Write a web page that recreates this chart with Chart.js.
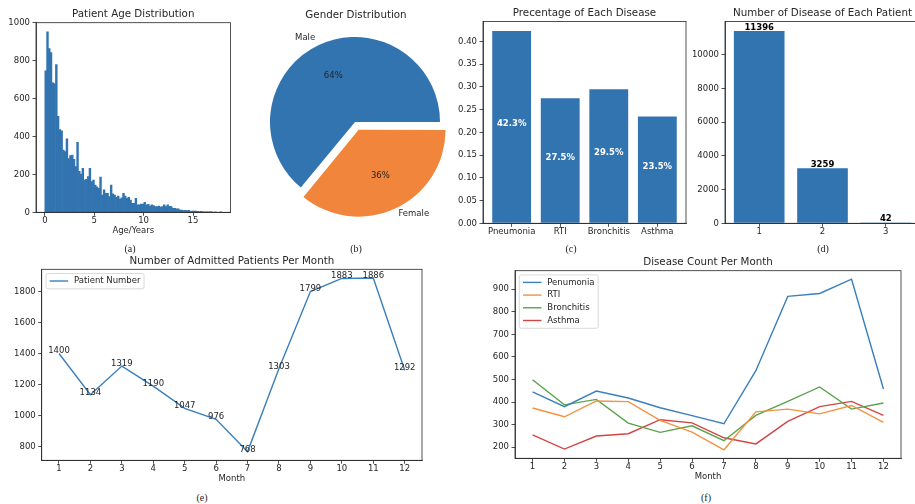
<!DOCTYPE html>
<html>
<head>
<meta charset="utf-8">
<script src="https://cdn.jsdelivr.net/npm/chart.js@4.4.1/dist/chart.umd.min.js"></script>
<style>
  html, body { margin: 0; padding: 0; background: #fff; }
  body { position: relative; width: 915px; height: 504px; overflow: hidden; }
  canvas { position: absolute; }
  .cap { position: absolute; font-family: "Liberation Serif", "DejaVu Serif", serif; font-size: 10px; color: #222;
         transform: translate(-50%, -50%); white-space: nowrap; }
</style>
</head>
<body>
<canvas id="ageChart"></canvas>
<canvas id="genderChart"></canvas>
<canvas id="shareChart"></canvas>
<canvas id="multiChart"></canvas>
<canvas id="admitChart"></canvas>
<canvas id="monthlyChart"></canvas>
<div class="cap" style="left:130px;top:248px">(a)</div>
<div class="cap" style="left:356px;top:248px">(b)</div>
<div class="cap" style="left:571px;top:248px">(c)</div>
<div class="cap" style="left:823px;top:248px">(d)</div>
<div class="cap" style="left:202px;top:497px">(e)</div>
<div class="cap" style="left:706px;top:497px">(f)</div>
<script>
// ---------------- data ----------------
// age histogram: 100 bins starting at 0 years
const ageBinStart = 0;
const ageBinWidth = 0.179;
const ageCounts = [
  747, 953, 864, 843, 683, 680, 780, 506, 437, 430,
  329, 320, 388, 283, 299, 302, 279, 241, 369, 216,
  202, 232, 170, 174, 188, 232, 162, 170, 144, 135,
  127, 186,  91, 118, 100, 100,  83, 144,  97,  91,
   79,  86,  70,  77, 100,  86,  74,  79,  65,  47,
   47,  74,  39,  39,  44,  44,  53,  39,  42,  33,
   40,  35,  30,  30,  33,  28,  30,  40,  30,  39,
   32,  30,  21,  21,  18,  18,  12,  12,   9,  10,
    9,  10,   5,   7,   7,   6,   5,   4,   5,   3,
    3,   2,   2,   1,   1,   0,   1,   0,   0,   1
];
const ageTicks = [0, 5, 10, 15];
const ageCountTicks = [0, 200, 400, 600, 800, 1000];

const genderLabels = ['Male', 'Female'];
const genderShare = [64, 36];

const diseaseNames = ['Pneumonia', 'RTI', 'Bronchitis', 'Asthma'];
const diseaseShare = [0.423, 0.275, 0.295, 0.235];
const shareTicks = [0, 0.05, 0.10, 0.15, 0.20, 0.25, 0.30, 0.35, 0.40];

const diseasesPerPatient = [1, 2, 3];
const patientsWithCount = [11396, 3259, 42];
const patientTicks = [0, 2000, 4000, 6000, 8000, 10000];

const months = [1, 2, 3, 4, 5, 6, 7, 8, 9, 10, 11, 12];
const admittedPatients = [1400, 1134, 1319, 1190, 1047, 976, 768, 1303, 1799, 1883, 1886, 1292];
const admittedTicks = [800, 1000, 1200, 1400, 1600, 1800];

const pneumoniaMonthly  = [445, 380, 449, 418, 375, 340, 304, 539, 868, 881, 944, 458];
const rtiMonthly        = [374, 335, 405, 402, 319, 267, 189, 357, 369, 348, 385, 310];
const bronchitisMonthly = [499, 388, 412, 307, 266, 295, 229, 341, 403, 467, 369, 396];
const asthmaMonthly     = [255, 192, 250, 260, 322, 308, 242, 215, 315, 380, 403, 341];
const monthlyTicks = [200, 300, 400, 500, 600, 700, 800, 900];

// ---------------- style ----------------
const FONT = "'DejaVu Sans', sans-serif";
const INK = '#262626';
const BLUE = '#3274b0';
const ORANGE = '#f0853b';
const LINE_COLORS = ['#3a7fbd', '#f5913f', '#58a34c', '#d24545'];
const LINE_WIDTH = 1.4;
const TICK_SIZE = 8.5;
const TITLE_SIZE = 10.3;
const PIE_R = 85;
const FEMALE_EXPLODE = 0.1;

Chart.defaults.font.family = FONT;
Chart.defaults.color = INK;
Chart.defaults.animation = false;
Chart.defaults.plugins.legend.display = false;
Chart.defaults.plugins.tooltip.enabled = false;

// matplotlib-like 5% autoscale margin
function padRange(lo, hi) { const m = 0.05 * (hi - lo); return [lo - m, hi + m]; }

// place a canvas so that its plot area lands on the given box
function place(id, box, room) {
  const c = document.getElementById(id);
  const left = Math.floor(box.L - room.l), top = Math.floor(box.T - room.t);
  const right = Math.ceil(box.R + room.r), bottom = Math.ceil(box.B + room.b);
  c.style.left = left + 'px'; c.style.top = top + 'px';
  c.width = right - left; c.height = bottom - top;
  return { yw: box.L - left, pt: box.T - top, pr: right - box.R, xh: bottom - box.B };
}

function axis(horizontal, range, tickValues, fmt, size, pad) {
  return {
    type: 'linear', min: range[0], max: range[1], bounds: 'data', offset: false,
    afterBuildTicks: s => { s.ticks = tickValues.map(v => ({ value: v })); },
    afterFit: s => { if (horizontal) s.height = size; else s.width = size; },
    grid: { drawOnChartArea: false, drawTicks: true, tickLength: 3.5, tickWidth: 0.8, tickColor: INK, offset: false },
    border: { display: true, color: INK, width: 0.8 },
    ticks: { font: { size: TICK_SIZE }, color: INK, padding: pad, autoSkip: false, maxRotation: 0, minRotation: 0,
             callback: v => fmt(v) }
  };
}

function layoutOf(g) { return { padding: { left: 0, top: g.pt, right: g.pr, bottom: 0 } }; }

// axes frame, title, x label and optional extras
function frame(cfg) {
  return {
    id: 'frame',
    afterDraw(chart) {
      const { ctx, chartArea: a } = chart;
      ctx.save();
      ctx.strokeStyle = INK; ctx.lineWidth = 0.8;
      ctx.strokeRect(a.left, a.top, a.right - a.left, a.bottom - a.top);
      ctx.fillStyle = INK; ctx.textAlign = 'center'; ctx.textBaseline = 'middle';
      ctx.font = `${TITLE_SIZE}px ${FONT}`;
      ctx.fillText(cfg.title, (a.left + a.right) / 2, a.top - 8);
      if (cfg.xlabel) {
        ctx.font = `${TICK_SIZE}px ${FONT}`;
        ctx.fillText(cfg.xlabel, (a.left + a.right) / 2, a.bottom + 18);
      }
      if (cfg.extra) cfg.extra(chart, ctx);
      ctx.restore();
    }
  };
}

function drawLegend(chart, ctx) {
  const a = chart.chartArea;
  const items = chart.data.datasets.map(d => ({ label: d.label, color: d.borderColor }));
  ctx.font = `${TICK_SIZE}px ${FONT}`;
  const textW = Math.max(...items.map(i => ctx.measureText(i.label).width));
  const padL = 3.7, handle = 18.5, gap = 5.8, padR = 3.6, firstRow = 7.5, row = 12.7, lastPad = 7.8;
  const x0 = a.left + 4.3, y0 = a.top + 4.2;
  const w = padL + handle + gap + textW + padR;
  const h = firstRow + (items.length - 1) * row + lastPad;
  ctx.fillStyle = 'rgba(255,255,255,0.85)';
  ctx.strokeStyle = '#d0d0d0'; ctx.lineWidth = 0.8;
  ctx.beginPath(); ctx.roundRect(x0, y0, w, h, 2); ctx.fill(); ctx.stroke();
  items.forEach((it, i) => {
    const y = y0 + firstRow + i * row;
    ctx.strokeStyle = it.color; ctx.lineWidth = LINE_WIDTH;
    ctx.beginPath(); ctx.moveTo(x0 + padL, y); ctx.lineTo(x0 + padL + handle, y); ctx.stroke();
    ctx.fillStyle = INK; ctx.textAlign = 'left'; ctx.textBaseline = 'middle';
    ctx.fillText(it.label, x0 + padL + handle + gap, y);
  });
}

// ---------------- (a) age histogram ----------------
const ga = place('ageChart', { L: 36, T: 22.7, R: 230.5, B: 212.3 }, { l: 36, t: 23, r: 8, b: 26 });
new Chart('ageChart', {
  type: 'bar',
  data: { datasets: [{
    data: ageCounts.map((c, i) => ({ x: ageBinStart + (i + 0.5) * ageBinWidth, y: c })),
    backgroundColor: BLUE, borderWidth: 0, barPercentage: 1, categoryPercentage: 1
  }] },
  options: {
    responsive: false, layout: layoutOf(ga),
    scales: {
      x: axis(true, padRange(ageBinStart, ageBinStart + ageCounts.length * ageBinWidth), ageTicks, v => String(v), ga.xh, 0),
      y: axis(false, [0, Math.max(...ageCounts) * 1.05], ageCountTicks, v => String(v), ga.yw, 2.5)
    }
  },
  plugins: [frame({ title: 'Patient Age Distribution', xlabel: 'Age/Years' })]
});

// ---------------- (b) gender pie ----------------
const gb = document.getElementById('genderChart');
gb.style.left = '245px'; gb.style.top = '0px'; gb.width = 220; gb.height = 244;
const genderTotal = genderShare.reduce((s, v) => s + v, 0);
const explodePx = genderShare.map((v, i) => (i === 1 ? FEMALE_EXPLODE * PIE_R : 0));
new Chart('genderChart', {
  type: 'pie',
  data: { labels: genderLabels, datasets: [{
    data: genderShare, backgroundColor: [BLUE, ORANGE], borderWidth: 0,
    offset: explodePx.map(p => p * 4)
  }] },
  options: {
    responsive: false, radius: PIE_R,
    rotation: 90 - 360 * genderShare[0] / genderTotal,
    layout: { padding: 0 }
  },
  plugins: [{
    id: 'pieText',
    afterDraw(chart) {
      const ctx = chart.ctx;
      const arcs = chart.getDatasetMeta(0).data;
      ctx.save();
      ctx.fillStyle = INK;
      ctx.font = `${TITLE_SIZE}px ${FONT}`;
      ctx.textAlign = 'center'; ctx.textBaseline = 'middle';
      ctx.fillText('Gender Distribution', arcs[0].x + 1, 15);
      ctx.font = `${TICK_SIZE}px ${FONT}`;
      arcs.forEach((arc, i) => {
        const mid = (arc.startAngle + arc.endAngle) / 2;
        const cx = arc.x + Math.cos(mid) * explodePx[i];
        const cy = arc.y + Math.sin(mid) * explodePx[i];
        const r = arc.outerRadius;
        ctx.textBaseline = 'middle';
        ctx.textAlign = Math.cos(mid) >= 0 ? 'left' : 'right';
        ctx.fillText(genderLabels[i], cx + Math.cos(mid) * r * 1.1, cy + Math.sin(mid) * r * 1.1);
        ctx.textAlign = 'center';
        const pct = Math.round(genderShare[i] / genderTotal * 100) + '%';
        ctx.fillText(pct, cx + Math.cos(mid) * r * 0.6, cy + Math.sin(mid) * r * 0.6);
      });
      ctx.restore();
    }
  }]
});

// ---------------- (c) share of each disease ----------------
const gc = place('shareChart', { L: 483, T: 21.5, R: 686, B: 223.3 }, { l: 30, t: 22, r: 6, b: 26 });
new Chart('shareChart', {
  type: 'bar',
  data: { datasets: [{
    data: diseaseShare.map((v, i) => ({ x: i, y: v })),
    backgroundColor: BLUE, borderWidth: 0, barPercentage: 1, categoryPercentage: 0.8
  }] },
  options: {
    responsive: false, layout: layoutOf(gc),
    scales: {
      x: axis(true, padRange(-0.4, diseaseNames.length - 1 + 0.4), diseaseNames.map((n, i) => i), v => diseaseNames[v], gc.xh, 0),
      y: axis(false, [0, Math.max(...diseaseShare) * 1.05], shareTicks, v => v.toFixed(2), gc.yw, 2.5)
    }
  },
  plugins: [frame({
    title: 'Precentage of Each Disease',
    extra(chart, ctx) {
      const ys = chart.scales.y;
      ctx.fillStyle = '#ffffff';
      ctx.font = `bold ${TICK_SIZE}px ${FONT}`;
      ctx.textAlign = 'center'; ctx.textBaseline = 'bottom';
      chart.getDatasetMeta(0).data.forEach((bar, i) => {
        ctx.fillText((diseaseShare[i] * 100).toFixed(1) + '%', bar.x, ys.getPixelForValue(diseaseShare[i] / 2) + 1);
      });
    }
  })]
});

// ---------------- (d) number of diseases per patient ----------------
const gd = place('multiChart', { L: 725, T: 21.5, R: 920, B: 223.3 }, { l: 36, t: 22, r: 0, b: 26 });
new Chart('multiChart', {
  type: 'bar',
  data: { datasets: [{
    data: patientsWithCount.map((v, i) => ({ x: diseasesPerPatient[i], y: v })),
    backgroundColor: BLUE, borderWidth: 0, barPercentage: 1, categoryPercentage: 0.8
  }] },
  options: {
    responsive: false, layout: layoutOf(gd),
    scales: {
      x: axis(true, padRange(diseasesPerPatient[0] - 0.4, diseasesPerPatient[diseasesPerPatient.length - 1] + 0.4),
              diseasesPerPatient, v => String(v), gd.xh, 0),
      y: axis(false, [0, Math.max(...patientsWithCount) * 1.05], patientTicks, v => String(v), gd.yw, 2.5)
    }
  },
  plugins: [frame({
    title: 'Number of Disease of Each Patient',
    extra(chart, ctx) {
      ctx.fillStyle = '#000';
      ctx.font = `bold ${TICK_SIZE}px ${FONT}`;
      ctx.textAlign = 'center'; ctx.textBaseline = 'bottom';
      chart.getDatasetMeta(0).data.forEach((bar, i) => {
        ctx.fillText(String(patientsWithCount[i]), bar.x, bar.y + 0.5);
      });
    }
  })]
});

// ---------------- (e) admitted patients per month ----------------
const ge = place('admitChart', { L: 41.7, T: 269.3, R: 422, B: 460.3 }, { l: 38, t: 20, r: 6, b: 28 });
new Chart('admitChart', {
  type: 'line',
  data: { datasets: [{
    label: 'Patient Number',
    data: admittedPatients.map((v, i) => ({ x: months[i], y: v })),
    borderColor: LINE_COLORS[0], borderWidth: LINE_WIDTH, pointRadius: 0, tension: 0, fill: false
  }] },
  options: {
    responsive: false, layout: layoutOf(ge),
    scales: {
      x: axis(true, padRange(months[0], months[months.length - 1]), months, v => String(v), ge.xh, 0),
      y: axis(false, padRange(Math.min(...admittedPatients), Math.max(...admittedPatients)), admittedTicks, v => String(v), ge.yw, 2.5)
    }
  },
  plugins: [frame({
    title: 'Number of Admitted Patients Per Month', xlabel: 'Month',
    extra(chart, ctx) {
      ctx.fillStyle = INK;
      ctx.font = `${TICK_SIZE}px ${FONT}`;
      ctx.textAlign = 'center'; ctx.textBaseline = 'alphabetic';
      chart.getDatasetMeta(0).data.forEach((pt, i) => {
        ctx.fillText(String(admittedPatients[i]), pt.x, pt.y);
      });
      drawLegend(chart, ctx);
    }
  })]
});

// ---------------- (f) disease count per month ----------------
const monthlySeries = [
  { label: 'Penumonia', values: pneumoniaMonthly },
  { label: 'RTI', values: rtiMonthly },
  { label: 'Bronchitis', values: bronchitisMonthly },
  { label: 'Asthma', values: asthmaMonthly }
];
const allMonthly = [].concat(pneumoniaMonthly, rtiMonthly, bronchitisMonthly, asthmaMonthly);
const gf = place('monthlyChart', { L: 515, T: 270.7, R: 901, B: 458.3 }, { l: 30, t: 20, r: 6, b: 28 });
new Chart('monthlyChart', {
  type: 'line',
  data: { datasets: monthlySeries.map((s, k) => ({
    label: s.label,
    data: s.values.map((v, i) => ({ x: months[i], y: v })),
    borderColor: LINE_COLORS[k], borderWidth: LINE_WIDTH, pointRadius: 0, tension: 0, fill: false
  })) },
  options: {
    responsive: false, layout: layoutOf(gf),
    scales: {
      x: axis(true, padRange(months[0], months[months.length - 1]), months, v => String(v), gf.xh, 0),
      y: axis(false, padRange(Math.min(...allMonthly), Math.max(...allMonthly)), monthlyTicks, v => String(v), gf.yw, 2.5)
    }
  },
  plugins: [frame({ title: 'Disease Count Per Month', xlabel: 'Month', extra: drawLegend })]
});
</script>
</body>
</html>
